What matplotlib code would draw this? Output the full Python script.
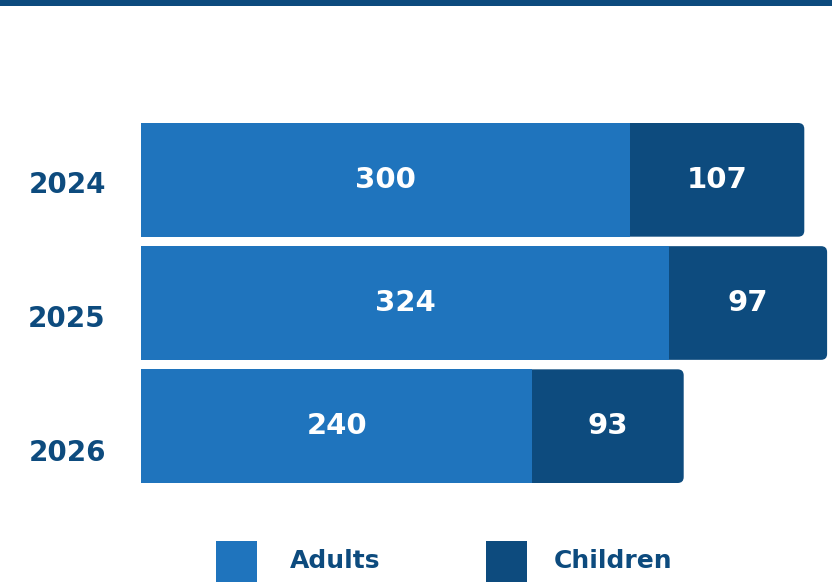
import matplotlib.pyplot as plt
from matplotlib.patches import FancyBboxPatch, Rectangle

YEARS = ['2024', '2025', '2026']
ADULTS = [300, 324, 240]
CHILDREN = [107, 97, 93]

ADULT_COLOR = '#1f74bd'
CHILD_COLOR = '#0d4b7e'
FONT = ['DejaVu Sans']

W, H = 832, 588


def fx(px):
    return px / W


def fy(py):
    return 1 - py / H


def main() -> None:
    plt.rcParams['font.family'] = FONT
    fig = plt.figure(figsize=(W / 100, H / 100), dpi=100)

    # top stripe
    fig.add_artist(Rectangle((0, fy(6)), 1, 6 / H, transform=fig.transFigure,
                             color=CHILD_COLOR, lw=0))

    ax = fig.add_axes([fx(141), fy(483), fx(691), 360 / H])
    bar_h = 0.923
    ypos = list(range(len(YEARS)))
    xmax = 424
    ax.set_xlim(0, xmax)
    ax.set_ylim(len(YEARS) - 1 + bar_h / 2, -bar_h / 2)
    ax.axis('off')

    ax.barh(ypos, ADULTS, height=bar_h, color=ADULT_COLOR, zorder=3, lw=0)

    # rounded right end for the children segment
    px_per_x = 691 / xmax
    px_per_y = 360 / (len(YEARS) - 1 + bar_h)
    r = 6 / px_per_x
    aspect = (6 / px_per_y) / r
    for y, a, c in zip(ypos, ADULTS, CHILDREN):
        patch = FancyBboxPatch((a - 10, y - bar_h / 2), c + 10, bar_h,
                               boxstyle=f'round,pad=0,rounding_size={r}',
                               mutation_aspect=aspect, fc=CHILD_COLOR, lw=0, zorder=2)
        ax.add_patch(patch)
        ax.text(a / 2, y, str(a), ha='center', va='center', color='white',
                fontsize=21, fontweight='bold', zorder=4)
        ax.text(a + c / 2, y, str(c), ha='center', va='center', color='white',
                fontsize=21, fontweight='bold', zorder=4)

    # year labels
    lab = fig.add_axes([fx(27), fy(520), fx(80), 402 / H])
    lab.set_xlim(0, 1)
    lab.set_ylim(len(YEARS) - 0.5, -0.5)
    lab.axis('off')
    for i, yr in enumerate(YEARS):
        lab.text(0.5, i, yr, ha='center', va='center', color=CHILD_COLOR,
                 fontsize=20, fontweight='bold')

    # legend
    for x0, tx, name, col in [(216, 290, 'Adults', ADULT_COLOR),
                              (486, 554, 'Children', CHILD_COLOR)]:
        fig.add_artist(Rectangle((fx(x0), fy(582)), fx(41), 41 / H,
                                 transform=fig.transFigure, color=col, lw=0))
        fig.text(fx(tx), fy(561), name, ha='left', va='center', color=CHILD_COLOR,
                 fontsize=18, fontweight='bold')

    fig.savefig('out.png', dpi=100)


if __name__ == '__main__':
    main()
